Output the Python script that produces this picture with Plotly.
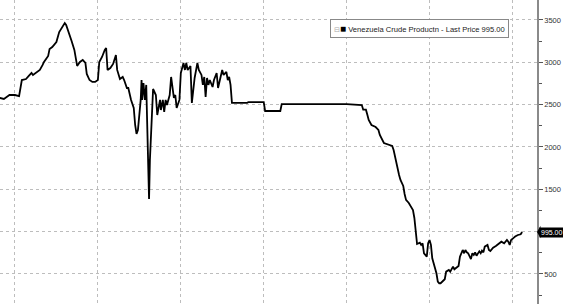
import plotly.graph_objects as go

dates = [
    "1994-02-01", "1994-05-01", "1994-08-01", "1994-09-01", "1995-01-01", "1995-03-01", "1995-04-01",
    "1995-06-01", "1995-09-01", "1995-11-01", "1996-01-01", "1996-02-01", "1996-04-01", "1996-05-01",
    "1996-07-01", "1996-09-01", "1996-10-01", "1997-01-01", "1997-02-01", "1997-04-01", "1997-05-01",
    "1997-07-01", "1997-09-01", "1997-11-01", "1998-01-01", "1998-02-01", "1998-04-01", "1998-06-01",
    "1998-08-01", "1998-09-01", "1998-10-01", "1998-12-01", "1999-02-01", "1999-04-01", "1999-05-01",
    "1999-07-01", "1999-09-01", "1999-11-01", "2000-01-01", "2000-02-01", "2000-04-01", "2000-06-01",
    "2000-07-01", "2000-08-01", "2000-10-01", "2000-12-01", "2001-02-01", "2001-03-01", "2001-05-01",
    "2001-07-01", "2001-08-01", "2001-10-01", "2001-11-01", "2002-01-01", "2002-03-01", "2002-04-01",
    "2002-05-01", "2002-06-01", "2002-08-01", "2002-08-20", "2002-09-01", "2002-10-01", "2002-11-01",
    "2002-12-01", "2003-01-01", "2003-02-01", "2003-02-20", "2003-04-01", "2003-05-01", "2003-07-01",
    "2003-08-01", "2003-10-01", "2003-10-20", "2003-12-01", "2004-01-01", "2004-02-01", "2004-03-01",
    "2004-05-01", "2004-06-01", "2004-08-01", "2004-09-01", "2004-10-01", "2004-12-01", "2005-01-01",
    "2005-03-01", "2005-04-01", "2005-05-01", "2005-06-01", "2005-08-01", "2005-09-01", "2005-11-01",
    "2006-01-01", "2006-02-01", "2006-04-01", "2006-05-01", "2006-06-01", "2006-07-01", "2006-08-01",
    "2006-09-01", "2006-10-01", "2006-12-01", "2007-01-01", "2007-03-01", "2007-04-01", "2007-06-01",
    "2007-07-01", "2007-08-01", "2007-10-01", "2007-11-01", "2007-12-01", "2008-01-01", "2008-02-01",
    "2009-01-01", "2009-02-01", "2010-01-01", "2010-02-01", "2011-01-01", "2011-02-01", "2015-01-01",
    "2015-10-01", "2015-12-01", "2016-01-01", "2016-03-01", "2016-04-01", "2016-05-01", "2016-07-01",
    "2016-10-01", "2016-12-01", "2017-01-01", "2017-04-01", "2017-06-01", "2017-08-01", "2017-10-01",
    "2017-11-01", "2017-12-01", "2018-01-01", "2018-02-01", "2018-03-01", "2018-04-01", "2018-06-01",
    "2018-07-01", "2018-08-01", "2018-10-01", "2019-01-01", "2019-02-01", "2019-03-01", "2019-03-20",
    "2019-04-01", "2019-06-01", "2019-07-01", "2019-08-01", "2019-09-01", "2019-11-01", "2019-12-01",
    "2020-01-01", "2020-02-01", "2020-03-01", "2020-04-01", "2020-06-01", "2020-07-01", "2020-08-01",
    "2020-09-01", "2020-11-01", "2020-12-01", "2021-01-01", "2021-03-01", "2021-04-01", "2021-06-01",
    "2021-07-01", "2021-08-01", "2021-09-01", "2021-10-01", "2021-11-01", "2022-01-01", "2022-02-01",
    "2022-03-01", "2022-04-01", "2022-05-01", "2022-07-01", "2022-08-01", "2022-09-01", "2022-10-01",
    "2022-11-01", "2023-01-01", "2023-02-01", "2023-03-01", "2023-04-01", "2023-05-01", "2023-07-01",
    "2023-08-01", "2023-09-01", "2023-10-01", "2023-11-01", "2024-01-01", "2024-02-01", "2024-03-01",
    "2024-04-01", "2024-05-01", "2024-07-01", "2024-08-01", "2024-09-01", "2024-10-01", "2024-11-01",
    "2024-12-01", "2025-01-01", "2025-02-01", "2025-03-01", "2025-04-01", "2025-05-01", "2025-07-01",
    "2025-08-01",
]

production = [
    2578, 2566, 2601, 2613, 2613, 2601, 2601,
    2790, 2802, 2838, 2873, 2850, 2873, 2885,
    2909, 2968, 3003, 3074, 3157, 3180, 3204,
    3239, 3357, 3404, 3463, 3440, 3357, 3251,
    3145, 3039, 2956, 3003, 3027, 2991, 2862,
    2790, 2767, 2767, 2790, 3003, 3062, 3145,
    3168, 2909, 2932, 2980, 3086, 2909, 2802,
    2826, 2790, 2696, 2696, 2555, 2460, 2259,
    2153, 2200, 2555, 2790, 2555, 2755, 2555,
    2732, 1964, 1385, 1846, 2436, 2684, 2613,
    2377, 2555, 2436, 2555, 2413, 2555, 2495,
    2613, 2826, 2578, 2613, 2460, 2555, 2873,
    2991, 2909, 2991, 2909, 2956, 2519, 2814,
    2991, 2909, 2850, 2732, 2826, 2590, 2814,
    2732, 2790, 2708, 2790, 2873, 2696, 2850,
    2909, 2850, 2885, 2790, 2826, 2732, 2520,
    2520, 2530, 2530, 2424, 2424, 2505, 2505,
    2495, 2495, 2440, 2440, 2380, 2318, 2259,
    2235, 2200, 2141, 2046, 2034, 2023, 2011,
    1964, 1881, 1787, 1704, 1669, 1610, 1539,
    1444, 1374, 1338, 1255, 1161, 1043, 925,
    854, 870, 842, 862, 744, 705, 862,
    901, 842, 685, 626, 508, 409, 390,
    390, 429, 437, 527, 547, 527, 586,
    555, 567, 586, 594, 704, 783, 744,
    783, 755, 744, 676, 744, 724, 755,
    716, 767, 744, 775, 755, 822, 842,
    783, 771, 795, 811, 830, 842, 850,
    862, 881, 862, 890, 901, 881, 842,
    901, 921, 929, 941, 953, 960, 968,
    995,
]

tick_values = [500, 1000, 1500, 2000, 2500, 3000, 3500]
tick_labels = ["500", "", "1500", "2000", "2500", "3000", "3500"]
series_name = "Venezuela Crude Productn - Last Price"
last_value = production[-1]

fig = go.Figure()
fig.add_trace(go.Scatter(
    x=dates, y=production, mode="lines",
    line=dict(color="black", width=1.8),
    showlegend=False, hoverinfo="skip",
))

fig.update_layout(
    width=563, height=304,
    margin=dict(l=0, r=26, t=0, b=0),
    paper_bgcolor="white", plot_bgcolor="white",
    showlegend=False,
    font=dict(family="Liberation Sans, Arial, sans-serif", color="#333"),
)

fig.update_xaxes(
    type="date",
    range=["1994-02-05", "2026-06-25"],
    showgrid=True, gridcolor="#bdbdbd", griddash="dot", gridwidth=1,
    dtick="M60", tick0="1995-01-01",
    showticklabels=False, ticks="", showline=False, zeroline=False,
)

fig.update_yaxes(
    side="right",
    range=[145, 3735],
    tickmode="array", tickvals=tick_values, ticktext=tick_labels,
    showgrid=True, gridcolor="#bdbdbd", griddash="dot", gridwidth=1,
    showline=True, linecolor="#8a8a8a", linewidth=1.5,
    ticks="outside", ticklen=4, tickcolor="#555", tickwidth=1,
    minor=dict(dtick=250, tick0=250, ticks="outside", ticklen=3, tickcolor="#555", showgrid=False),
    tickfont=dict(size=7.5, color="#333"),
    zeroline=False,
)

# Last price tag
fig.add_annotation(
    xref="paper", yref="y", x=1.0, y=last_value,
    xanchor="left", yanchor="middle", xshift=2,
    text=f"{last_value:.2f}", showarrow=False,
    font=dict(size=7, color="white"),
    bgcolor="black", borderpad=1,
)
fig.add_shape(
    type="path", xref="paper", yref="y",
    path=f"M 1.0 {last_value} L 1.0065 {last_value + 75} L 1.0065 {last_value - 75} Z",
    fillcolor="black", line=dict(width=0),
)

# Legend box
fig.add_annotation(
    xref="paper", yref="paper", x=0.6145, y=1 - 19 / 304,
    xanchor="left", yanchor="top",
    text=(f'<span style="color:#aaa;font-size:7px">⊟</span>'
          f'<span style="color:black;font-size:10px">■</span> {series_name} {last_value:.2f}'),
    showarrow=False,
    font=dict(size=7.6, color="#222"),
    bgcolor="white", bordercolor="#888", borderwidth=1, borderpad=3,
)

fig.write_html("out.html")
